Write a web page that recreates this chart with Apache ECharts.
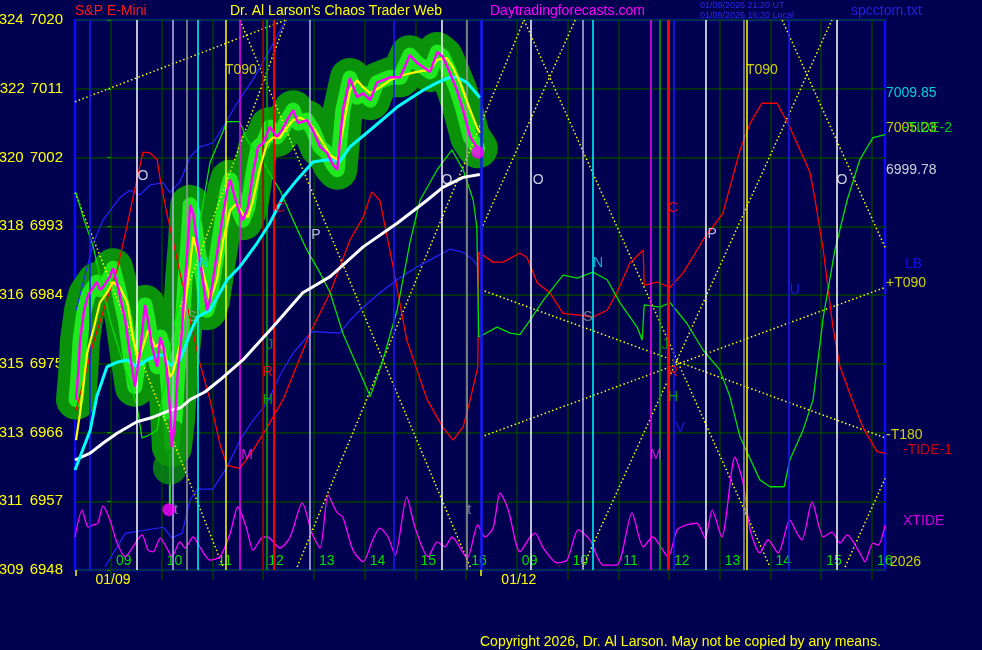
<!DOCTYPE html>
<html><head><meta charset="utf-8">
<script src="https://cdn.jsdelivr.net/npm/echarts@6/dist/echarts.min.js"></script>
<style>html,body{margin:0;padding:0;background:#000050;}#c{width:982px;height:650px;}</style>
</head><body><div id="c"></div>
<script>
// ---------------- DATA ----------------
// x unit: trading-hour index (0 = first "09" hour line of 01/09), y: S&P E-mini price
const xMin = -0.71, xMax = 15.257;
const hourTicks = [0,1,2,3,4,5,6,7,8,9,10,11,12,13,14,15];
const hourLabels = ['09','10','11','12','13','14','15','16','09','10','11','12','13','14','15','16'];
const dateLabelPos = [0.04, 8.04];
const dateLabels = ['01/09', '01/12'];
const dateTickPos = [-0.69, 7.29];
const priceTicks = [6948,6957,6966,6975,6984,6993,7002,7011,7020];
const spxTicks = ['309','311','313','315','316','318','320','322','324'];

const price = [[-0.69,6970.3],[-0.65,6973.5],[-0.61,6978.1],[-0.53,6982.0],[-0.45,6984.0],[-0.35,6985.0],[-0.28,6985.7],[-0.22,6984.7],[-0.16,6985.0],[-0.02,6986.4],[0.04,6987.5],[0.14,6985.0],[0.28,6980.7],[0.37,6976.4],[0.47,6972.0],[0.57,6976.4],[0.67,6982.7],[0.73,6980.7],[0.81,6977.2],[0.91,6974.6],[0.97,6978.5],[1.03,6977.2],[1.10,6974.2],[1.16,6969.3],[1.20,6964.1],[1.26,6967.6],[1.32,6974.2],[1.40,6979.4],[1.46,6986.0],[1.52,6991.2],[1.56,6995.8],[1.62,6994.7],[1.71,6990.3],[1.81,6986.0],[1.89,6982.0],[1.95,6983.3],[2.05,6987.7],[2.19,6993.8],[2.29,6997.7],[2.35,6999.1],[2.44,6996.8],[2.54,6994.7],[2.60,6993.8],[2.70,6995.5],[2.80,7000.0],[2.90,7003.4],[3.00,7003.9],[3.13,7006.0],[3.27,7004.7],[3.37,7005.6],[3.47,7006.9],[3.59,7008.2],[3.69,7006.5],[3.86,7006.9],[3.98,7005.6],[4.12,7003.4],[4.26,7002.6],[4.38,7001.0],[4.46,7000.4],[4.57,7008.2],[4.71,7012.4],[4.85,7009.9],[4.97,7010.4],[5.11,7009.5],[5.24,7011.8],[5.50,7012.5],[5.70,7012.5],[5.89,7015.4],[6.03,7014.4],[6.29,7013.2],[6.43,7015.8],[6.54,7015.2],[6.68,7013.1],[6.82,7010.8],[6.94,7008.2],[7.08,7004.7],[7.23,7003.2]];
const lowBar = [[1.16,6964.0],[1.16,6956.5]];
const lowBlobs = [[1.16,6965.5],[1.16,6961.4]];
const dots = [[7.23,7002.7],[1.14,6955.9]];

const fastAvg = [[-0.69,6965.0],[-0.61,6968.6],[-0.47,6976.4],[-0.35,6979.4],[-0.22,6983.0],[-0.08,6984.3],[0.04,6985.7],[0.18,6985.0],[0.32,6983.0],[0.43,6978.5],[0.53,6975.5],[0.63,6977.2],[0.73,6979.4],[0.87,6977.2],[0.97,6977.7],[1.06,6976.4],[1.16,6973.3],[1.22,6973.8],[1.36,6977.5],[1.50,6984.7],[1.62,6991.6],[1.75,6988.6],[1.89,6985.0],[1.95,6983.3],[2.09,6986.0],[2.21,6991.2],[2.35,6995.1],[2.48,6996.0],[2.60,6994.5],[2.70,6994.2],[2.80,6996.4],[2.94,7000.8],[3.08,7003.9],[3.19,7004.6],[3.33,7004.6],[3.43,7005.6],[3.59,7006.9],[3.73,7007.2],[3.88,7006.7],[4.02,7005.6],[4.18,7003.9],[4.32,7002.3],[4.46,7001.7],[4.57,7005.6],[4.71,7010.8],[4.85,7012.1],[4.97,7011.2],[5.11,7010.4],[5.30,7011.2],[5.50,7012.1],[5.76,7012.8],[6.03,7013.2],[6.29,7013.5],[6.43,7014.8],[6.62,7015.0],[6.74,7013.8],[6.88,7011.8],[7.08,7008.2],[7.21,7006.0],[7.27,7005.23]];

const midAvg = [[-0.71,6961.1],[-0.41,6966.3],[-0.28,6970.7],[-0.08,6974.6],[0.12,6975.2],[0.32,6975.5],[0.51,6974.6],[0.71,6975.5],[0.91,6976.1],[1.03,6976.1],[1.16,6974.8],[1.36,6975.5],[1.56,6979.0],[1.70,6981.1],[1.95,6982.0],[2.29,6986.0],[2.54,6987.7],[2.88,6990.8],[3.13,6993.4],[3.39,6996.8],[3.67,6999.1],[3.98,7001.4],[4.26,7001.7],[4.51,7001.5],[4.71,7003.4],[5.11,7005.6],[5.64,7008.6],[6.15,7010.8],[6.43,7011.8],[6.68,7012.5],[6.82,7012.5],[7.02,7011.8],[7.27,7009.85]];

const slowAvg = [[-0.71,6962.4],[-0.41,6963.3],[-0.16,6964.6],[0.12,6965.9],[0.51,6967.4],[0.83,6968.0],[1.16,6968.9],[1.36,6969.2],[1.56,6970.3],[1.85,6971.3],[2.15,6972.9],[2.60,6975.5],[3.19,6979.8],[3.78,6984.3],[4.32,6986.4],[4.97,6990.3],[5.64,6993.4],[6.23,6996.4],[6.54,6998.1],[6.94,6999.4],[7.27,6999.78]];

const lbUpper = [[-0.69,6982.0],[-0.35,6990.8],[-0.16,6993.8],[0.18,6996.8],[0.37,6997.7],[0.57,6997.1],[0.77,6998.4],[1.03,6998.7],[1.16,6997.4],[1.36,6998.8],[1.56,7002.1],[1.75,7003.4],[2.01,7003.9],[2.21,7006.0],[2.48,7009.1],[2.80,7012.2],[3.13,7016.1],[3.45,7020.0]];
const lbLower = [[-0.12,6948.4],[0.28,6952.8],[1.03,6953.6],[1.20,6952.2],[1.40,6952.8],[1.56,6957.2],[1.70,6958.6],[2.01,6958.6],[2.29,6961.5],[2.54,6965.0],[2.80,6967.6],[3.08,6969.9],[3.33,6973.5],[3.59,6976.4],[3.86,6978.5],[3.98,6979.2],[4.51,6979.0],[4.71,6980.7],[4.97,6982.4],[5.30,6984.3],[5.64,6986.0],[6.03,6987.7],[6.29,6988.6],[6.68,6990.0],[6.94,6989.6],[7.14,6988.6],[7.21,6987.9]];

const tide1 = [[-0.69,6968.9],[-0.35,6977.7],[-0.08,6983.4],[0.12,6987.3],[0.32,6993.2],[0.51,6999.1],[0.63,7002.7],[0.77,7002.6],[0.91,7001.7],[0.97,6999.1],[1.10,6994.7],[1.22,6991.2],[1.42,6985.0],[1.62,6979.0],[1.75,6975.1],[1.95,6970.3],[2.15,6964.4],[2.29,6961.7],[2.54,6961.3],[2.80,6963.7],[3.08,6966.7],[3.39,6970.3],[3.92,6979.0],[4.32,6984.3],[4.71,6991.2],[4.97,6994.2],[5.14,6997.5],[5.30,6996.4],[5.56,6987.7],[5.83,6978.1],[6.23,6970.3],[6.54,6966.7],[6.74,6965.0],[6.94,6966.7],[7.08,6970.3],[7.23,6974.6],[7.25,6989.6],[7.53,6988.3],[7.73,6988.3],[8.06,6989.5],[8.20,6988.9],[8.40,6985.6],[8.65,6984.3],[8.91,6981.6],[9.19,6981.4],[9.50,6981.1],[9.78,6982.0],[9.97,6984.3],[10.23,6988.2],[10.49,6989.9],[10.51,6985.3],[10.76,6985.7],[11.02,6985.0],[11.28,6986.9],[11.67,6991.2],[12.06,6994.7],[12.40,7003.0],[12.60,7006.5],[12.83,7009.1],[13.13,7009.1],[13.38,7006.0],[13.58,7003.0],[13.78,7000.0],[13.88,6996.4],[14.04,6989.9],[14.23,6979.8],[14.37,6974.6],[14.61,6970.3],[14.82,6966.7],[15.10,6963.5],[15.26,6963.3]];

const tide2 = [[-0.69,6997.4],[-0.55,6994.2],[-0.35,6990.3],[-0.02,6980.7],[0.28,6974.2],[0.51,6969.6],[0.61,6965.3],[0.73,6965.6],[0.91,6966.3],[1.06,6972.9],[1.26,6980.7],[1.50,6987.3],[1.70,6991.6],[1.95,7001.3],[2.29,7006.7],[2.54,7006.7],[2.68,7004.3],[3.00,7001.3],[3.33,6997.7],[3.59,6993.8],[3.86,6989.9],[4.12,6986.9],[4.32,6984.3],[4.57,6979.0],[4.91,6973.8],[5.11,6970.7],[5.36,6975.5],[5.64,6982.0],[5.89,6990.8],[6.09,6996.4],[6.43,7000.4],[6.72,7003.0],[6.94,7000.4],[7.14,6996.4],[7.21,6992.9],[7.25,6978.5],[7.61,6979.8],[7.87,6979.0],[8.06,6978.8],[8.26,6980.7],[8.52,6983.3],[8.91,6986.6],[9.19,6986.2],[9.50,6987.0],[9.78,6986.0],[10.03,6983.0],[10.37,6979.8],[10.47,6978.1],[10.51,6982.7],[10.82,6982.4],[11.02,6983.0],[11.35,6980.3],[11.67,6976.8],[12.00,6974.2],[12.20,6970.7],[12.40,6965.4],[12.79,6959.8],[12.99,6958.9],[13.27,6958.9],[13.38,6962.4],[13.64,6966.3],[13.84,6970.3],[14.04,6981.1],[14.27,6989.9],[14.51,6996.4],[14.76,7001.7],[15.02,7004.6],[15.26,7005.0]];

// XTIDE on its own 0..100 scale
const xtide = [[-0.71,6.0],[-0.57,10.9],[-0.45,7.8],[-0.35,8.2],[-0.26,8.5],[-0.16,11.6],[-0.02,9.1],[0.12,4.9],[0.28,2.4],[0.43,4.2],[0.61,6.4],[0.73,3.6],[0.83,3.3],[0.97,5.8],[1.10,4.0],[1.20,2.4],[1.36,5.1],[1.46,4.0],[1.62,6.0],[1.75,4.2],[1.95,1.8],[2.15,2.4],[2.35,6.7],[2.50,11.5],[2.68,7.3],[2.80,3.6],[3.00,6.0],[3.08,6.0],[3.33,4.0],[3.53,6.0],[3.77,12.2],[3.96,6.7],[4.12,4.0],[4.28,13.6],[4.45,10.5],[4.57,9.6],[4.77,3.6],[4.97,1.5],[5.16,5.5],[5.30,7.6],[5.46,6.0],[5.60,2.7],[5.83,13.3],[5.99,7.8],[6.25,2.4],[6.43,5.1],[6.58,4.2],[6.72,6.0],[7.02,2.2],[7.23,8.2],[7.37,6.0],[7.53,7.6],[7.67,14.0],[7.83,10.9],[8.06,3.3],[8.26,6.0],[8.36,6.7],[8.52,4.0],[8.79,1.3],[8.99,1.8],[9.21,7.3],[9.44,5.5],[9.70,0.9],[9.97,0.9],[10.27,10.4],[10.49,4.2],[10.68,6.0],[10.98,2.4],[11.16,7.3],[11.35,8.2],[11.55,8.5],[11.71,5.8],[11.85,10.9],[12.04,6.0],[12.30,20.5],[12.46,15.8],[12.60,7.3],[12.79,3.1],[12.95,5.5],[13.15,3.1],[13.38,9.1],[13.52,6.7],[13.62,5.5],[13.82,12.4],[14.04,6.0],[14.21,6.9],[14.37,4.9],[14.51,6.4],[14.76,3.1],[14.86,1.5],[15.02,4.9],[15.12,4.5],[15.26,8.2]];

const gannLines = [
  [[-0.71,7009.3],[3.45,7020.0]],
  [[2.54,7020.0],[7.08,6948.4]],
  [[3.45,7020.0],[1.36,6982.3]],
  [[-0.71,6997.4],[2.21,6948.4]],
  [[3.67,6948.4],[8.14,7020.0]],
  [[8.14,7020.0],[12.99,6948.4]],
  [[9.15,7020.0],[7.29,6992.5]],
  [[9.30,6948.4],[14.21,7020.0]],
  [[13.23,7020.0],[15.26,6990.2]],
  [[14.47,6948.4],[15.26,6960.0]],
  [[7.29,6984.7],[15.26,6965.3]],
  [[7.29,6965.4],[15.26,6985.0]]
];

const vLineT = [-0.41,0.51,1.22,1.50,1.70,2.27,2.54,3.00,3.06,3.21,3.92,5.58,6.52,7.02,7.29,8.28,9.30,9.50,10.64,10.82,10.98,11.10,11.73,12.48,12.54,13.36,14.30];
const vLineKind = ['blue','white','lav','gray','cyan','yellow','magenta','darkred','green','red','lav','blue','white','gray','blueb','white','lav','cyan','magenta','green','redthick','blue','white','gray','yellow','blue','white'];

const letterText = ['O','O','O','O','P','P','N','N','S','S','J','J','R','R','H','H','V','M','M','t','t','t','C','C','U','T090','T090'];
const letterT = [0.63,6.62,8.42,14.41,4.04,11.85,1.83,9.60,1.60,9.40,3.13,10.92,3.09,11.08,3.09,11.08,11.22,2.68,10.74,1.28,7.06,12.52,3.33,11.08,13.48,2.56,12.83];
const letterP = [6999.5,6999.1,6999.0,6999.0,6991.9,6992.0,6988.2,6988.2,6981.1,6981.1,6977.5,6977.5,6973.9,6973.9,6970.3,6970.6,6966.6,6963.1,6963.1,6955.9,6955.9,6955.6,6995.4,6995.4,6984.7,7013.45,7013.45];

const sideText = ['7009.85','7005.23','-TIDE-2','6999.78','LB','+T090','-T180','-TIDE-1','XTIDE','2026'];
const sideP = [7010.4,7005.9,7005.9,7000.4,6988.1,6985.6,6965.7,6963.7,6954.4,6949.0];

// ---------------- STYLE ----------------
const FONT = '"Liberation Sans", Arial, sans-serif';
const vStyle = {
  blue:{c:'#1a1aff',w:1.5}, blueb:{c:'#1a1aff',w:2.5}, white:{c:'#ffffff',w:1.5}, lav:{c:'#b8b8e8',w:1.5},
  gray:{c:'#9a9a9a',w:1.5}, cyan:{c:'#00ffff',w:1.5}, yellow:{c:'#ffff00',w:1.5}, magenta:{c:'#ff00ff',w:1.5},
  darkred:{c:'#b00000',w:1.5}, green:{c:'#00b000',w:1.5}, red:{c:'#ff0000',w:2}, redthick:{c:'#ff0000',w:3}
};
const letterColor = {O:'#ffffff',P:'#e0e0ff',N:'#00d8ff',S:'#9a9a9a',J:'#00b000',R:'#ff1010',H:'#00c000',V:'#2020ff',M:'#ff20ff',t:'#a0a0a0',C:'#ff1010',U:'#2020ff',T090:'#ffff00'};
const sideStyle = [
  {c:'#00ffff',d:1},{c:'#ffff00',d:1},{c:'#00ff00',d:18},{c:'#ffffff',d:1},{c:'#1515ff',d:20},
  {c:'#ffff00',d:1},{c:'#ffff00',d:1},{c:'#ff0000',d:18},{c:'#ff00ff',d:18},{c:'#ffff00',d:5}
];

const chart = echarts.init(document.getElementById('c'), null, {renderer:'canvas'});
const series = [];

series.push({type:'line', data:price, symbol:'none', clip:false, z:1, silent:true,
  lineStyle:{color:'#0a920a', width:40, cap:'round', join:'round'}});
series.push({type:'scatter', data:lowBlobs, symbolSize:34, clip:false, z:1, silent:true,
  itemStyle:{color:'#0a920a'}});
series.push({type:'line', data:price, symbol:'none', clip:false, z:1, silent:true,
  lineStyle:{color:'#1ee81e', width:15, cap:'round', join:'round'}});
series.push({type:'line', data:lowBar, symbol:'none', z:1, silent:true,
  lineStyle:{color:'#1ee81e', width:2}});

series.push({type:'line', data:[], symbol:'none', z:2, silent:true,
  markLine:{symbol:'none', silent:true, label:{show:false}, animation:false,
    data: vLineT.map((x,i)=>({xAxis:x, lineStyle:{color:vStyle[vLineKind[i]].c, width:vStyle[vLineKind[i]].w, type:'solid'}}))}});

gannLines.forEach(seg => series.push({type:'line', data:seg, symbol:'none', z:3, silent:true,
  lineStyle:{color:'#ffff00', width:1.5, type:[1.5,2.5]}}));

series.push({type:'line', data:lbUpper, symbol:'none', z:4, silent:true, lineStyle:{color:'#2424ff', width:1.2}});
series.push({type:'line', data:lbLower, symbol:'none', z:4, silent:true, lineStyle:{color:'#2424ff', width:1.2}});
series.push({type:'line', data:tide1, symbol:'none', z:4, silent:true, lineStyle:{color:'#ff0000', width:1.3}});
series.push({type:'line', data:tide2, symbol:'none', z:4, silent:true, lineStyle:{color:'#00e000', width:1.3}});
series.push({type:'line', data:xtide, yAxisIndex:1, symbol:'none', smooth:0.25, z:4, silent:true, lineStyle:{color:'#ff00ff', width:1.3}});

series.push({type:'line', data:slowAvg, symbol:'none', z:5, silent:true, lineStyle:{color:'#ffffff', width:3}});
series.push({type:'line', data:midAvg, symbol:'none', z:5, silent:true, lineStyle:{color:'#00ffff', width:3}});
series.push({type:'line', data:fastAvg, symbol:'none', z:6, silent:true, lineStyle:{color:'#ffff00', width:2.2}});
series.push({type:'line', data:price, symbol:'none', z:6, silent:true, lineStyle:{color:'#ff00ff', width:2.5}});
series.push({type:'scatter', data:dots, symbolSize:13, z:7, silent:true, clip:false, itemStyle:{color:'#ff00ff'}});

series.push({type:'scatter', symbolSize:0, z:8, silent:true, clip:false,
  data: letterText.map((s,i)=>({value:[letterT[i], letterP[i]],
    label:{show:true, position:'inside', formatter:s, color:letterColor[s], fontSize:14, fontFamily:FONT}}))});

series.push({type:'scatter', symbolSize:0, z:8, silent:true, clip:false,
  data: sideText.map((s,i)=>({value:[xMax, sideP[i]],
    label:{show:true, position:'right', distance:sideStyle[i].d, formatter:s, color:sideStyle[i].c, fontSize:14, fontFamily:FONT}}))});

const option = {
  backgroundColor:'#000050',
  animation:false,
  textStyle:{fontFamily:FONT},
  title:[
    {text:'S&P E-Mini', left:75, top:4, padding:0, textStyle:{color:'#ff1a1a', fontSize:14, fontWeight:'normal', fontFamily:FONT}},
    {text:"Dr. Al Larson's Chaos Trader Web", left:230, top:4, padding:0, textStyle:{color:'#ffff00', fontSize:14, fontWeight:'normal', fontFamily:FONT}},
    {text:'Daytradingforecasts.com', left:490, top:4, padding:0, textStyle:{color:'#ff00ff', fontSize:14, fontWeight:'normal', fontFamily:FONT}},
    {text:'01/09/2026 21:20 UT', left:700, top:1, padding:0, textStyle:{color:'#2a2aee', fontSize:9, fontWeight:'normal', fontFamily:FONT}},
    {text:'01/09/2026 16:20 Local', left:700, top:11, padding:0, textStyle:{color:'#2a2aee', fontSize:9, fontWeight:'normal', fontFamily:FONT}},
    {text:'spcctom.txt', left:851, top:4, padding:0, textStyle:{color:'#2222dd', fontSize:14, fontWeight:'normal', fontFamily:FONT}},
    {text:'Copyright 2026, Dr. Al Larson. May not be copied by any means.', left:480, top:635, padding:0, textStyle:{color:'#ffff00', fontSize:14, fontWeight:'normal', fontFamily:FONT}}
  ],
  grid:{left:75, top:20, width:810, height:550, show:true, borderColor:'#0a0aff', borderWidth:2.5, backgroundColor:'transparent', outerBoundsMode:'none', containLabel:false},
  xAxis:[
    {type:'value', min:xMin, max:xMax, position:'bottom',
      axisLine:{show:false},
      axisTick:{show:true, customValues:hourTicks, length:10, lineStyle:{color:'#004000', width:1.5}},
      axisLabel:{customValues:hourTicks, inside:true, margin:2, align:'left', padding:[0,0,0,5],
        color:'#00e000', fontSize:14, fontFamily:FONT,
        formatter:(v)=>hourLabels[Math.round(v)]},
      splitLine:{show:true, lineStyle:{color:'#004000', width:1.5}}},
    {type:'value', min:xMin, max:xMax, position:'bottom',
      axisLine:{show:false}, splitLine:{show:false},
      axisTick:{show:true, customValues:dateTickPos, length:6, lineStyle:{color:'#ffff00', width:1.5}},
      axisLabel:{customValues:dateLabelPos, margin:3, color:'#ffff00', fontSize:14, fontFamily:FONT,
        formatter:(v)=>{const i=dateLabelPos.findIndex(p=>Math.abs(p-v)<1e-6); return i>=0?dateLabels[i]:'';}}}
  ],
  yAxis:[
    {type:'value', min:6948, max:7020, interval:9,
      axisLine:{show:false},
      axisTick:{show:true, length:4, lineStyle:{color:'#00a000'}},
      axisLabel:{margin:12, color:'#ffff00', fontSize:14, fontFamily:FONT,
        formatter:(v)=>{const i=priceTicks.indexOf(v); return '{a|'+(i>=0?spxTicks[i]:'')+'}{b|'+v+'}';},
        rich:{a:{width:31, align:'left', color:'#ffff00', fontSize:15, fontFamily:FONT}, b:{color:'#ffff00', fontSize:15, fontFamily:FONT}}},
      splitLine:{show:true, lineStyle:{color:'#004000', width:1.5}}},
    {type:'value', min:0, max:100, show:false, splitLine:{show:false}}
  ],
  series: series
};
chart.setOption(option);
</script></body></html>
